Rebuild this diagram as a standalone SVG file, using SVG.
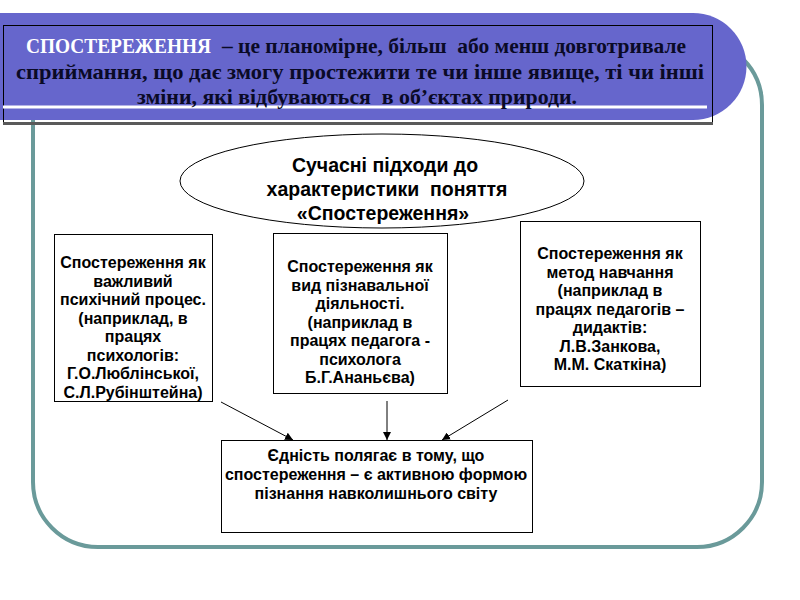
<svg xmlns="http://www.w3.org/2000/svg" width="800" height="600" viewBox="0 0 800 600">
<style>
.box{fill:#fff;stroke:#000;stroke-width:1}
.t{font-family:"Liberation Sans",Arial,sans-serif;font-weight:bold;font-size:16px;fill:#000;text-anchor:middle}
.e{font-size:19.5px}
.h{font-family:"Liberation Serif","Times New Roman",serif;font-weight:bold;font-size:21.5px;fill:#0a0a26}
.conn{stroke:#000;stroke-width:1;fill:none;marker-end:url(#ah)}
</style>
<defs>
<marker id="ah" viewBox="0 0 10 10" refX="10" refY="5" markerWidth="8" markerHeight="8" markerUnits="userSpaceOnUse" orient="auto">
<path d="M0,0 L10,5 L0,10 z" fill="#000"/>
</marker>
</defs>
<rect width="800" height="600" fill="#fff"/>
<rect id="frame" x="33" y="40" width="729" height="507" rx="65" ry="65" fill="none" stroke="#6a9a9a" stroke-width="4"/>
<g id="banner">
<path d="M0,13 H693 A53.5,53.5 0 0 1 693,120 H0 Z" fill="#6666cc"/>
<rect x="3.5" y="25.5" width="709" height="97" fill="none" stroke="#000" stroke-width="1"/>
<line x1="3" y1="123.5" x2="713" y2="123.5" stroke="#5a5a5a" stroke-width="3"/>
<line x1="3" y1="107" x2="707" y2="107" stroke="#fff" stroke-width="3"/>
<text class="h" x="26" y="53" style="fill:#fff" textLength="185" lengthAdjust="spacingAndGlyphs">СПОСТЕРЕЖЕННЯ</text>
<text class="h" x="222" y="53" textLength="464" lengthAdjust="spacingAndGlyphs">– це планомірне, більш&#160; або менш довготривале</text>
<text class="h" x="16" y="79" textLength="688" lengthAdjust="spacingAndGlyphs">сприймання, що дає змогу простежити те чи інше явище, ті чи інші</text>
<text class="h" x="137" y="104" textLength="440" lengthAdjust="spacingAndGlyphs">зміни, які відбуваються&#160; в об’єктах природи.</text>
</g>
<g id="ellipse">
<ellipse cx="382" cy="181" rx="202" ry="47" fill="#fff" stroke="#000" stroke-width="1"/>
<text class="t e" x="385" y="172">Сучасні підходи до</text>
<text class="t e" x="387" y="196">характеристики&#160; поняття</text>
<text class="t e" x="383" y="220">«Спостереження»</text>
</g>
<g id="node1">
<rect class="box" x="54.5" y="234.5" width="158" height="167"/>
<text class="t" x="133" y="268">Спостереження як</text>
<text class="t" x="133" y="286.5">важливий</text>
<text class="t" x="133" y="305">психічний процес.</text>
<text class="t" x="133" y="323.5">(наприклад, в</text>
<text class="t" x="133" y="342">працях</text>
<text class="t" x="133" y="360.5">психологів:</text>
<text class="t" x="133" y="379">Г.О.Люблінської,</text>
<text class="t" x="133" y="397.5">С.Л.Рубінштейна)</text>
</g>
<g id="node2">
<rect class="box" x="273.5" y="233.5" width="174" height="160"/>
<text class="t" x="360" y="272">Спостереження як</text>
<text class="t" x="360" y="290.5">вид пізнавальної</text>
<text class="t" x="360" y="309">діяльності.</text>
<text class="t" x="360" y="327.5">(наприклад в</text>
<text class="t" x="360" y="346">працях педагога -</text>
<text class="t" x="360" y="364.5">психолога</text>
<text class="t" x="360" y="383">Б.Г.Ананьєва)</text>
</g>
<g id="node3">
<rect class="box" x="520.5" y="221.5" width="180" height="165"/>
<text class="t" x="610" y="259">Спостереження як</text>
<text class="t" x="610" y="277.5">метод навчання</text>
<text class="t" x="610" y="296">(наприклад в</text>
<text class="t" x="610" y="314.5">працях педагогів –</text>
<text class="t" x="610" y="333">дидактів:</text>
<text class="t" x="610" y="351.5">Л.В.Занкова,</text>
<text class="t" x="610" y="370">М.М. Скаткіна)</text>
</g>
<g id="node4">
<rect class="box" x="221.5" y="440.5" width="311" height="92"/>
<text class="t" x="376" y="461">Єдність полягає в тому, що</text>
<text class="t" x="376" y="480">спостереження – є активною формою</text>
<text class="t" x="376" y="499">пізнання навколишнього світу</text>
</g>
<g id="connectors">
<line class="conn" x1="221" y1="402" x2="293" y2="440"/>
<line class="conn" x1="387" y1="401" x2="387" y2="440"/>
<line class="conn" x1="508" y1="400" x2="442" y2="440"/>
</g>
</svg>
